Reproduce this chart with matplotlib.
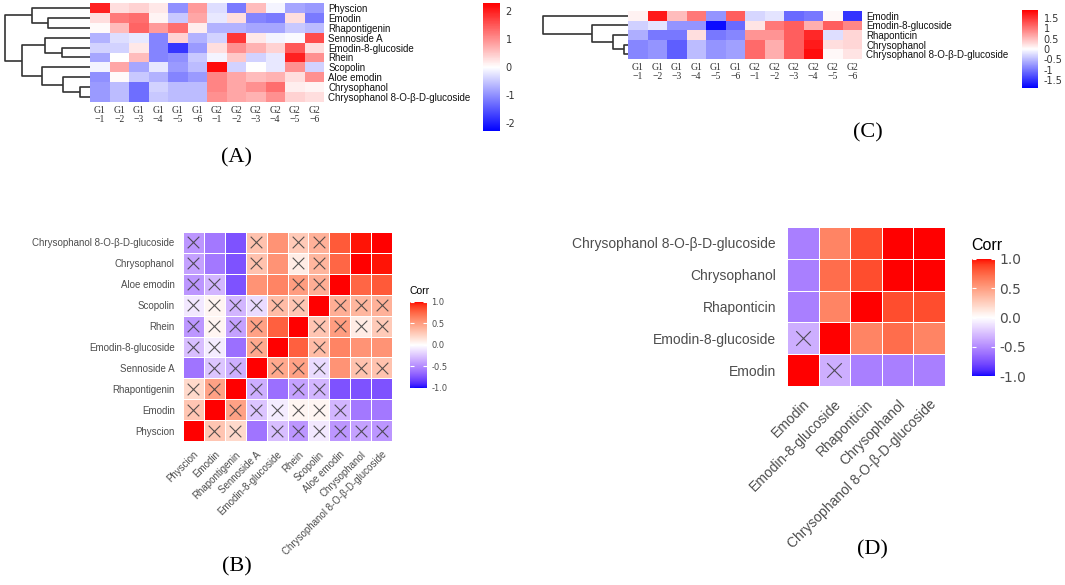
import numpy as np
import matplotlib
matplotlib.use("Agg")
import matplotlib.pyplot as plt
from matplotlib.colors import LinearSegmentedColormap, ListedColormap

plt.rcParams['axes.unicode_minus'] = False

W, H = 1065, 585

# ---- panel A: all compounds, z-scored peak areas ----
a_rows = ['Physcion', 'Emodin', 'Rhapontigenin', 'Sennoside A', 'Emodin-8-glucoside',
          'Rhein', 'Scopolin', 'Aloe emodin', 'Chrysophanol',
          'Chrysophanol 8-O-β-D-glucoside']
samples = ['G1\n−1', 'G1\n−2', 'G1\n−3', 'G1\n−4', 'G1\n−5', 'G1\n−6',
           'G2\n−1', 'G2\n−2', 'G2\n−3', 'G2\n−4', 'G2\n−5', 'G2\n−6']
a_physcion = [2.0, 0.3, 0.4, 0.2, -1.0, 0.9, -0.3, -1.2, 0.6, -0.1, -0.8, -0.9]
a_emodin = [0.3, 1.2, 1.3, 0.1, -0.5, 0.8, -0.2, 0.3, -1.1, -1.2, 0.3, -1.2]
a_rhapontigenin = [0.05, 0.6, 1.4, 0.9, 1.3, 0.15, -0.7, -0.7, -0.8, -0.8, -0.5, -0.6]
a_sennoside = [-0.7, -0.3, -0.2, -1.1, 0.4, -0.7, -0.4, 1.8, 0.2, -0.1, -0.05, 1.6]
a_e8g = [-0.4, -0.4, 0.2, -1.1, -1.8, -0.9, 0.3, 1.0, 0.7, 0.4, 1.5, 0.3]
a_rhein = [-0.8, 0.0, 0.6, -1.1, -1.0, -0.5, -0.1, 0.5, -0.4, -0.2, 2.0, 1.0]
a_scopolin = [-0.1, 0.8, -0.8, -0.2, -0.9, -0.6, 2.2, -0.4, 0.0, -0.2, 1.0, -0.4]
a_aloe = [-1.0, 0.05, -0.5, -0.7, -1.1, -0.9, 1.1, 0.8, 0.6, 0.7, 0.3, 1.0]
a_chrys = [-0.9, -0.6, -1.3, -0.4, -0.6, -0.6, 1.1, 0.8, 1.0, 1.3, 0.15, 0.1]
a_c8o = [-0.9, -0.6, -1.3, -0.5, -0.6, -0.6, 1.0, 0.8, 0.7, 1.0, 0.4, 0.3]
# merges: (child, child, height); leaves are row indices
a_tree = [(1, 2, 42), (0, 10, 58), (4, 5, 28), (3, 12, 45), (8, 9, 10),
          (7, 14, 27), (6, 15, 48), (13, 16, 68), (11, 17, 85)]

# ---- panel C: five selected compounds ----
c_rows = ['Emodin', 'Emodin-8-glucoside', 'Rhaponticin', 'Chrysophanol',
          'Chrysophanol 8-O-β-D-glucoside']
c_emodin = [0.1, 1.7, 0.5, 1.0, -0.8, 1.2, -0.3, -0.2, -1.1, -1.0, 0.05, -1.5]
c_e8g = [-0.35, -0.2, -0.8, -0.8, -1.8, -1.1, 0.2, 1.0, 1.2, 0.6, 1.2, 0.9]
c_rhaponticin = [-0.6, -1.0, -1.0, 0.25, -1.0, -0.9, 0.8, 0.8, 1.2, 1.6, -0.25, 0.3]
c_chrys = [-0.9, -0.8, -1.2, -0.5, -0.8, -0.7, 1.1, 0.6, 1.2, 1.7, 0.25, 0.3]
c_c8o = [-0.9, -0.8, -1.2, -0.5, -0.8, -0.7, 1.1, 0.6, 1.2, 1.8, 0.05, 0.2]
c_tree = [(3, 4, 4), (2, 5, 15), (1, 6, 36), (0, 7, 85)]

# ---- panel B: correlation of all compounds ----
b_names = ['Physcion', 'Emodin', 'Rhapontigenin', 'Sennoside A', 'Emodin-8-glucoside',
           'Rhein', 'Scopolin', 'Aloe emodin', 'Chrysophanol',
           'Chrysophanol 8-O-β-D-glucoside']
b_corr = [
    [1.00, 0.30, 0.20, -0.60, -0.28, -0.45, -0.10, -0.45, -0.40, -0.45],
    [0.30, 1.00, 0.48, -0.25, -0.08, 0.05, 0.05, -0.32, -0.58, -0.58],
    [0.20, 0.48, 1.00, -0.35, -0.62, -0.40, -0.32, -0.75, -0.75, -0.75],
    [-0.60, -0.25, -0.35, 1.00, 0.45, 0.48, -0.15, 0.55, 0.32, 0.32],
    [-0.28, -0.08, -0.62, 0.45, 1.00, 0.78, 0.35, 0.62, 0.55, 0.55],
    [-0.45, 0.05, -0.40, 0.48, 0.78, 1.00, 0.30, 0.50, 0.10, 0.28],
    [-0.10, 0.05, -0.32, -0.15, 0.35, 0.30, 1.00, 0.42, 0.38, 0.40],
    [-0.45, -0.32, -0.75, 0.55, 0.62, 0.50, 0.42, 1.00, 0.75, 0.80],
    [-0.40, -0.58, -0.75, 0.32, 0.55, 0.10, 0.38, 0.75, 1.00, 0.98],
    [-0.45, -0.58, -0.75, 0.32, 0.55, 0.28, 0.40, 0.80, 0.98, 1.00],
]
b_insig = [
    [0, 1, 1, 0, 1, 1, 1, 1, 1, 1],
    [1, 0, 1, 1, 1, 1, 1, 1, 0, 0],
    [1, 1, 0, 1, 0, 1, 1, 0, 0, 0],
    [0, 1, 1, 0, 1, 1, 1, 0, 1, 1],
    [1, 1, 0, 1, 0, 0, 1, 0, 0, 0],
    [1, 1, 1, 1, 0, 0, 1, 1, 1, 1],
    [1, 1, 1, 1, 1, 1, 0, 1, 1, 1],
    [1, 1, 0, 0, 0, 1, 1, 0, 0, 0],
    [1, 0, 0, 1, 0, 1, 1, 0, 0, 0],
    [1, 0, 0, 1, 0, 1, 1, 0, 0, 0],
]

# ---- panel D: correlation of selected compounds ----
d_names = ['Emodin', 'Emodin-8-glucoside', 'Rhaponticin', 'Chrysophanol',
           'Chrysophanol 8-O-β-D-glucoside']
d_corr = [
    [1.00, -0.35, -0.55, -0.55, -0.55],
    [-0.35, 1.00, 0.62, 0.72, 0.62],
    [-0.55, 0.62, 1.00, 0.85, 0.85],
    [-0.55, 0.72, 0.85, 1.00, 1.00],
    [-0.55, 0.62, 0.85, 1.00, 1.00],
]
d_insig = [
    [0, 1, 0, 0, 0],
    [1, 0, 0, 0, 0],
    [0, 0, 0, 0, 0],
    [0, 0, 0, 0, 0],
    [0, 0, 0, 0, 0],
]


def box(x0, y0, x1, y1):
    return [x0 / W, 1 - y1 / H, (x1 - x0) / W, (y1 - y0) / H]


# ggplot-like gradient2 (interpolated in Lab)
_M = np.array([[0.4124, 0.3576, 0.1805], [0.2126, 0.7152, 0.0722], [0.0193, 0.1192, 0.9505]])
_WP = np.array([0.95047, 1.0, 1.08883])


def to_lab(rgb):
    rgb = np.asarray(rgb, float)
    lin = np.where(rgb <= 0.04045, rgb / 12.92, ((rgb + 0.055) / 1.055) ** 2.4)
    xyz = _M @ lin / _WP
    f = np.where(xyz > (6 / 29) ** 3, np.cbrt(xyz), xyz / (3 * (6 / 29) ** 2) + 4 / 29)
    return np.array([116 * f[1] - 16, 500 * (f[0] - f[1]), 200 * (f[1] - f[2])])


def from_lab(lab):
    fy = (lab[0] + 16) / 116
    f = np.array([fy + lab[1] / 500, fy, fy - lab[2] / 200])
    xyz = np.where(f > 6 / 29, f ** 3, 3 * (6 / 29) ** 2 * (f - 4 / 29)) * _WP
    lin = np.clip(np.linalg.solve(_M, xyz), 0, 1)
    rgb = np.where(lin <= 0.0031308, 12.92 * lin, 1.055 * lin ** (1 / 2.4) - 0.055)
    return np.clip(rgb, 0, 1)


lab_b, lab_w, lab_r = to_lab([0, 0, 1]), to_lab([1, 1, 1]), to_lab([1, 0, 0])
cols = []
for t in np.linspace(-1, 1, 256):
    if t < 0:
        cols.append(from_lab(lab_w + (lab_b - lab_w) * (-t)))
    else:
        cols.append(from_lab(lab_w + (lab_r - lab_w) * t))
corr_cmap = ListedColormap(cols)
heat_cmap = LinearSegmentedColormap.from_list('bwr2', ['#0000FF', '#FFFFFF', '#FF0000'])


def draw_tree(ax, merges, n, width):
    pos = {i: i + 0.5 for i in range(n)}
    hgt = {i: 0.0 for i in range(n)}
    for k, (a, b, h) in enumerate(merges):
        ax.plot([hgt[a], h, h, hgt[b]], [pos[a], pos[a], pos[b], pos[b]],
                color='#333333', lw=1.2, solid_capstyle='butt')
        pos[n + k] = (pos[a] + pos[b]) / 2
        hgt[n + k] = h
    ax.set_xlim(width, 0)
    ax.set_ylim(n, 0)
    ax.axis('off')


def cluster_heatmap(data, rows, tree, hm_box, dendro_box, cb_box, vlim, cticks):
    data = np.array(data)
    n = len(rows)
    ax_d = fig.add_axes(box(*dendro_box))
    draw_tree(ax_d, tree, n, dendro_box[2] - dendro_box[0])
    ax = fig.add_axes(box(*hm_box))
    mesh = ax.pcolormesh(data, cmap=heat_cmap, vmin=-vlim, vmax=vlim)
    ax.set_ylim(n, 0)
    ax.set_xlim(0, data.shape[1])
    ax.yaxis.tick_right()
    ax.set_yticks(np.arange(n) + 0.5)
    ax.set_yticklabels(rows, fontsize=7, family='Liberation Sans', color='#111111')
    ax.set_xticks(np.arange(data.shape[1]) + 0.5)
    ax.set_xticklabels(samples, fontsize=7, family='Liberation Serif', color='#333333',
                       linespacing=1.0)
    ax.tick_params(length=0, pad=3)
    for s in ax.spines.values():
        s.set_visible(False)
    cax = fig.add_axes(box(*cb_box))
    cb = fig.colorbar(mesh, cax=cax)
    cb.outline.set_visible(False)
    cb.set_ticks(cticks)
    cb.set_ticklabels([f'{t:g}' for t in cticks])
    cax.tick_params(length=0, labelsize=7, pad=4, labelcolor='#333333')


def corr_heatmap(corr, insig, names, hm_box, cb_box, fs, cb_fs, title_xy, msize, pad_y, pad_x):
    corr = np.array(corr)
    insig = np.array(insig)
    n = len(names)
    ax = fig.add_axes(box(*hm_box))
    mesh = ax.pcolormesh(corr, cmap=corr_cmap, vmin=-1, vmax=1,
                         edgecolors='white', linewidth=0.4)
    yy, xx = np.nonzero(insig)
    ax.scatter(xx + 0.5, yy + 0.5, marker='x', s=msize, c='#3a3a3a',
               linewidths=0.8, alpha=0.85)
    ax.set_xlim(0, n)
    ax.set_ylim(0, n)
    ax.set_xticks(np.arange(n) + 0.5)
    ax.set_yticks(np.arange(n) + 0.5)
    ax.set_xticklabels(names, rotation=45, ha='right', rotation_mode='anchor',
                       fontsize=fs, family='Liberation Sans', color='#4d4d4d')
    ax.set_yticklabels(names, fontsize=fs, family='Liberation Sans', color='#4d4d4d')
    ax.tick_params(axis='y', length=0, pad=pad_y)
    ax.tick_params(axis='x', length=0, pad=pad_x)
    for s in ax.spines.values():
        s.set_visible(False)
    cax = fig.add_axes(box(*cb_box))
    cb = fig.colorbar(mesh, cax=cax)
    cb.outline.set_visible(False)
    cb.set_ticks([-1, -0.5, 0, 0.5, 1])
    cb.set_ticklabels(['-1.0', '-0.5', '0.0', '0.5', '1.0'])
    cax.tick_params(direction='in', color='white', length=3, width=0.8,
                    left=True, right=True, labelsize=cb_fs, labelcolor='#4d4d4d', pad=3)
    fig.text(title_xy[0] / W, 1 - title_xy[1] / H, 'Corr', fontsize=cb_fs + 1.5,
             family='Liberation Sans', ha='left', va='center')


fig = plt.figure(figsize=(W / 100, H / 100), dpi=100)

cluster_heatmap([a_physcion, a_emodin, a_rhapontigenin, a_sennoside, a_e8g, a_rhein,
                 a_scopolin, a_aloe, a_chrys, a_c8o], a_rows, a_tree,
                (90, 3, 324, 102), (2, 3, 90, 102), (483, 3, 500, 131),
                2.3, [2, 1, 0, -1, -2])

cluster_heatmap([c_emodin, c_e8g, c_rhaponticin, c_chrys, c_c8o], c_rows, c_tree,
                (628, 11, 862, 59), (541, 11, 628, 59), (1022, 10, 1038, 88),
                1.9, [1.5, 1, 0.5, 0, -0.5, -1, -1.5])

corr_heatmap(b_corr, b_insig, b_names, (183, 232, 392, 441), (410, 302, 427, 388),
             7, 6, (410, 291), 70, 6, 6)

corr_heatmap(d_corr, d_insig, d_names, (787, 227, 945, 386), (972, 259, 995, 376),
             10, 10, (971, 245), 110, 8, 8)

for lab, x, y in [('(A)', 237, 158), ('(C)', 868, 133), ('(B)', 237, 567), ('(D)', 872, 550)]:
    fig.text(x / W, 1 - y / H, lab, fontsize=16, family='Liberation Serif',
             ha='center', va='center')

fig.savefig('out.png', dpi=100)
